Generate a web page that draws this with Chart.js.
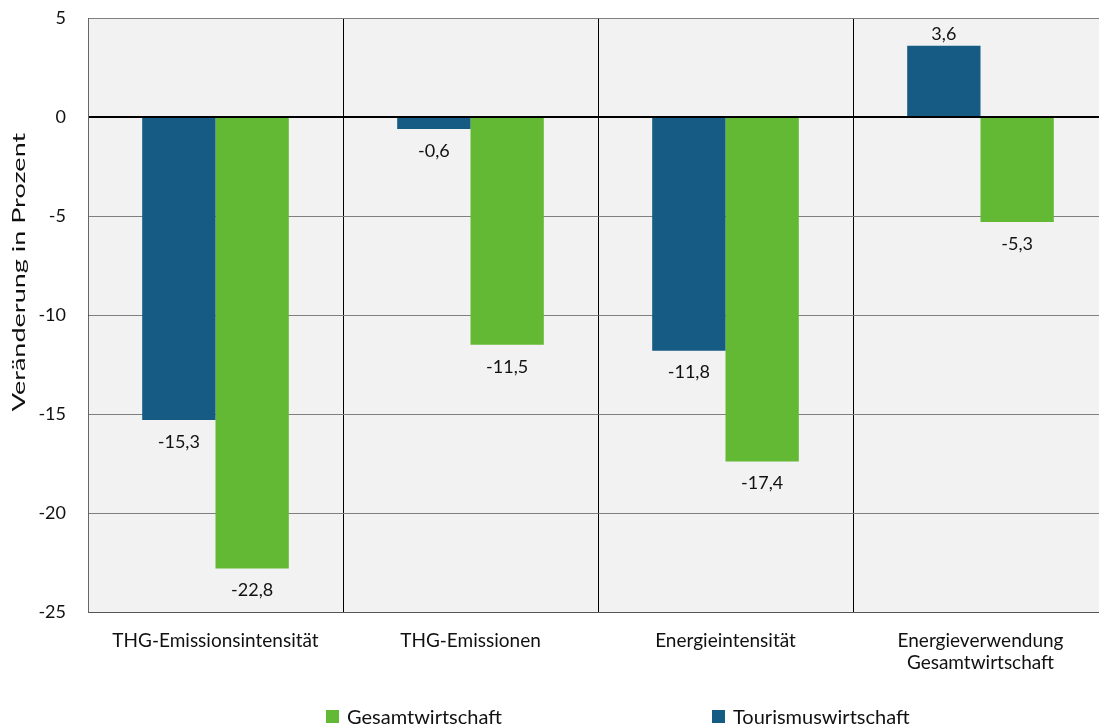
<!DOCTYPE html>
<html>
<head>
<meta charset="utf-8">
<script src="https://cdn.jsdelivr.net/npm/chart.js"></script>
<style>
  html, body { margin: 0; padding: 0; background: #fff; }
  #wrap { position: relative; width: 1099px; height: 726px; overflow: hidden; }
  #legend { position: absolute; top: 704px; left: 0; width: 1099px; height: 22px;
            font-family: Lato, "Open Sans", sans-serif; font-size: 20px; color: #111; }
  .item { position: absolute; top: 0; display: flex; align-items: center; white-space: nowrap; }
  .box { width: 13px; height: 13px; margin-right: 8px; }
</style>
</head>
<body>
<div id="wrap">
  <canvas id="chart" width="1108" height="726"></canvas>
  <div id="legend"></div>
</div>
<script>
const categories = ["THG-Emissionsintensität", "THG-Emissionen", "Energieintensität", ["Energieverwendung", "Gesamtwirtschaft"]];
const tourismus = [-15.3, -0.6, -11.8, 3.6];
const gesamt = [-22.8, -11.5, -17.4, -5.3];
const yTicks = [5, 0, -5, -10, -15, -20, -25];
const yTitle = 'Veränderung in Prozent';

const FONT = 'Lato, "Open Sans", sans-serif';
const BLUE = '#155b84';
const GREEN = '#63b934';

// grey plot background
const plotBg = {
  id: 'plotBg',
  beforeDraw(chart) {
    const { ctx, chartArea: a } = chart;
    ctx.save();
    ctx.fillStyle = '#f2f2f2';
    ctx.fillRect(a.left, a.top, a.right - a.left, a.bottom - a.top);
    ctx.restore();
  }
};

// value labels above/below bar ends
const valueLabels = {
  id: 'valueLabels',
  afterDatasetsDraw(chart) {
    const ctx = chart.ctx;
    ctx.save();
    ctx.font = '18px ' + FONT;
    ctx.fillStyle = '#111';
    ctx.textAlign = 'center';
    ctx.textBaseline = 'middle';
    chart.data.datasets.forEach((ds, i) => {
      chart.getDatasetMeta(i).data.forEach((bar, j) => {
        const v = ds.data[j];
        const y = v < 0 ? bar.y + 22 : bar.y - 12;
        ctx.fillText(v.toFixed(1).replace('.', ','), bar.x, y);
      });
    });
    ctx.restore();
  }
};

// rotated y title, stretched along its length like the source
const axisTitle = {
  id: 'axisTitle',
  afterDraw(chart) {
    const ctx = chart.ctx;
    ctx.save();
    ctx.translate(19, 272);
    ctx.rotate(-Math.PI / 2);
    ctx.scale(1.5, 1);
    ctx.font = '18px ' + FONT;
    ctx.fillStyle = '#111';
    ctx.textAlign = 'center';
    ctx.textBaseline = 'middle';
    ctx.fillText(yTitle, 0, 0);
    ctx.restore();
  }
};

const chart = new Chart(document.getElementById('chart'), {
  type: 'bar',
  data: {
    labels: categories,
    datasets: [
      { label: 'Tourismuswirtschaft', data: tourismus, backgroundColor: BLUE, borderWidth: 0 },
      { label: 'Gesamtwirtschaft', data: gesamt, backgroundColor: GREEN, borderWidth: 0 }
    ]
  },
  options: {
    responsive: false,
    animation: false,
    layout: { padding: { top: 18, right: 0, bottom: 0, left: 0 } },
    datasets: { bar: { categoryPercentage: 0.575, barPercentage: 1 } },
    plugins: {
      legend: { display: false },
      tooltip: { enabled: false }
    },
    scales: {
      x: {
        afterFit(scale) { scale.height = 114; scale.paddingLeft = 0; scale.paddingRight = 0; },
        grid: { offset: true, color: '#000', lineWidth: 1, drawTicks: false },
        border: { color: '#555', width: 1 },
        ticks: { color: '#111', font: { family: FONT, size: 19 }, padding: 17, maxRotation: 0, autoSkip: false }
      },
      y: {
        min: -25, max: 5,
        afterBuildTicks(axis) { axis.ticks = yTicks.map(v => ({ value: v })); },
        afterFit(scale) { scale.width = 88; scale.paddingTop = 0; scale.paddingBottom = 0; },
        grid: {
          drawTicks: false,
          color: ctx => ctx.tick && ctx.tick.value === 0 ? '#000' : '#7f7f7f',
          lineWidth: ctx => ctx.tick && ctx.tick.value === 0 ? 2 : 1
        },
        border: { color: '#666', width: 1 },
        ticks: { color: '#111', font: { family: FONT, size: 18 }, padding: 22,
                 callback: v => String(v) }
      }
    }
  },
  plugins: [plotBg, valueLabels, axisTitle]
});

// legend (green first, wide spacing like the source)
const legendPos = { 'Gesamtwirtschaft': 326, 'Tourismuswirtschaft': 712 };
const legendEl = document.getElementById('legend');
chart.data.datasets.slice().reverse().forEach(ds => {
  const item = document.createElement('div');
  item.className = 'item';
  item.style.left = legendPos[ds.label] + 'px';
  item.innerHTML = '<span class="box" style="background:' + ds.backgroundColor + '"></span>' + ds.label;
  legendEl.appendChild(item);
});
</script>
</body>
</html>
